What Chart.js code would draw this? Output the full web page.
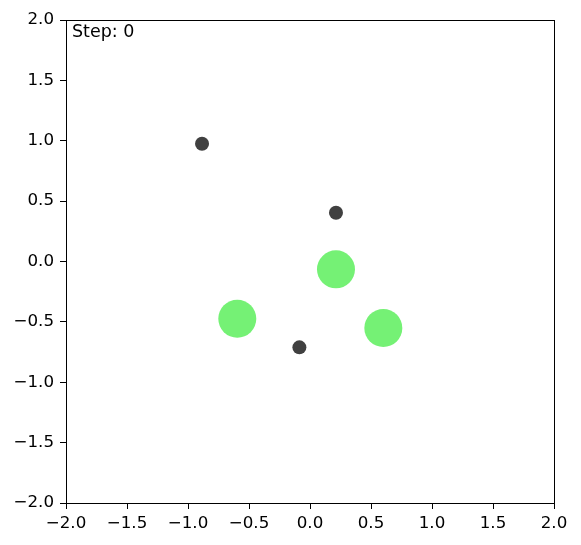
<!DOCTYPE html>
<html>
<head>
<meta charset="utf-8">
<script src="https://cdn.jsdelivr.net/npm/chart.js@4/dist/chart.umd.min.js"></script>
<style>
html,body{margin:0;padding:0;background:#fff;}
#wrap{width:581px;height:545px;position:relative;}
</style>
</head>
<body>
<div id="wrap"><canvas id="c" width="581" height="545"></canvas></div>
<script>
const stepLabel = "Step: 0";
const darkX = [-0.885, 0.213, -0.087];
const darkY = [0.975, 0.404, -0.711];
const greenX = [0.213, -0.596, 0.601];
const greenY = [-0.065, -0.474, -0.551];
const tickValues = [-2.0, -1.5, -1.0, -0.5, 0.0, 0.5, 1.0, 1.5, 2.0];

const fmt = v => (v < 0 ? '\u2212' : '') + Math.abs(v).toFixed(1);
const font = {family: 'DejaVu Sans', size: 16.7};

const boxPlugin = {
  id: 'box',
  afterDraw(chart) {
    const a = chart.chartArea, ctx = chart.ctx;
    ctx.save();
    ctx.strokeStyle = '#000';
    ctx.lineWidth = 1;
    ctx.strokeRect(Math.round(a.left) + 0.5, Math.round(a.top) + 0.5,
                   Math.round(a.right - a.left), Math.round(a.bottom - a.top));
    ctx.fillStyle = '#000';
    ctx.font = '17.5px "DejaVu Sans"';
    ctx.textBaseline = 'alphabetic';
    ctx.fillText(stepLabel, a.left + 6, a.top + 17);
    ctx.restore();
  }
};

new Chart(document.getElementById('c'), {
  type: 'scatter',
  data: {
    datasets: [
      {data: darkX.map((x, i) => ({x, y: darkY[i]})), backgroundColor: '#404040', borderWidth: 0, pointRadius: 7, pointHoverRadius: 7},
      {data: greenX.map((x, i) => ({x, y: greenY[i]})), backgroundColor: '#75f175', borderWidth: 0, pointRadius: 19, pointHoverRadius: 19}
    ]
  },
  options: {
    responsive: false,
    animation: false,
    events: [],
    layout: {padding: {left: 0, right: 27, top: 20, bottom: 0}},
    plugins: {legend: {display: false}, tooltip: {enabled: false}},
    scales: {
      x: {
        type: 'linear', min: -2, max: 2,
        afterFit: s => { s.height = 42; },
        afterBuildTicks: s => { s.ticks = tickValues.map(v => ({value: v})); },
        ticks: {font, color: '#000', padding: 5, maxRotation: 0, autoSkip: false, callback: v => fmt(v)},
        grid: {drawOnChartArea: false, drawTicks: true, tickLength: 6, color: '#000', tickColor: '#000'},
        border: {display: true, color: '#000', width: 1}
      },
      y: {
        type: 'linear', min: -2, max: 2,
        afterFit: s => { s.width = 66; },
        afterBuildTicks: s => { s.ticks = tickValues.map(v => ({value: v})); },
        ticks: {font, color: '#000', padding: 6, autoSkip: false, callback: v => fmt(v)},
        grid: {drawOnChartArea: false, drawTicks: true, tickLength: 6, color: '#000', tickColor: '#000'},
        border: {display: true, color: '#000', width: 1}
      }
    }
  },
  plugins: [boxPlugin]
});
</script>
</body>
</html>
